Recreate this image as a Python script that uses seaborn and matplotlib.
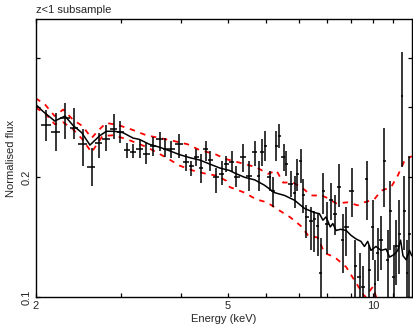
import matplotlib
matplotlib.use("Agg")
import matplotlib.pyplot as plt
import numpy as np
import pandas as pd
import seaborn as sns
from matplotlib.ticker import NullFormatter

# binned spectrum: energy (keV), normalised flux, error bar ends
energy = [2.10, 2.20, 2.30, 2.40, 2.50, 2.61, 2.70, 2.79, 2.91, 2.99,
          3.09, 3.18, 3.28, 3.39, 3.49, 3.61, 3.71, 3.82, 3.96, 4.10,
          4.20, 4.30, 4.39, 4.50, 4.60, 4.72, 4.85, 4.96, 5.10, 5.20,
          5.37, 5.52, 5.68, 5.79, 5.88, 5.97, 6.10, 6.19, 6.30, 6.37,
          6.53, 6.58, 6.76, 6.87, 6.96, 7.07, 7.14, 7.26, 7.44, 7.55,
          7.67, 7.77, 7.86, 8.02, 8.18, 8.34, 8.47, 8.64, 8.78, 9.02,
          9.17, 9.36, 9.51, 9.69, 9.81, 9.97, 10.08, 10.21, 10.37, 10.54,
          10.70, 10.84, 11.01, 11.14, 11.32, 11.44, 11.59, 11.74, 11.87]
flux = [0.271, 0.260, 0.282, 0.266, 0.242, 0.212, 0.244, 0.250, 0.265, 0.260,
        0.234, 0.231, 0.235, 0.229, 0.240, 0.249, 0.236, 0.235, 0.242, 0.219,
        0.213, 0.225, 0.211, 0.235, 0.221, 0.200, 0.204, 0.216, 0.218, 0.200,
        0.225, 0.202, 0.231, 0.202, 0.231, 0.240, 0.200, 0.185, 0.240, 0.254,
        0.225, 0.216, 0.192, 0.183, 0.204, 0.220, 0.180, 0.159, 0.155, 0.157,
        0.151, 0.115, 0.185, 0.153, 0.175, 0.162, 0.189, 0.139, 0.150, 0.185,
        0.120, 0.112, 0.106, 0.198, 0.117, 0.150, 0.108, 0.129, 0.139, 0.220,
        0.124, 0.165, 0.112, 0.134, 0.144, 0.320, 0.165, 0.115, 0.144]
flux_lo = [0.247, 0.233, 0.249, 0.249, 0.214, 0.190, 0.224, 0.233, 0.249, 0.244,
           0.224, 0.223, 0.223, 0.216, 0.226, 0.233, 0.225, 0.223, 0.224, 0.208,
           0.202, 0.214, 0.194, 0.220, 0.208, 0.183, 0.191, 0.206, 0.206, 0.189,
           0.206, 0.185, 0.214, 0.185, 0.214, 0.220, 0.185, 0.168, 0.220, 0.237,
           0.208, 0.202, 0.178, 0.167, 0.185, 0.194, 0.163, 0.141, 0.131, 0.130,
           0.127, 0.098, 0.162, 0.128, 0.156, 0.143, 0.168, 0.115, 0.127, 0.159,
           0.100, 0.098, 0.095, 0.156, 0.097, 0.124, 0.095, 0.110, 0.117, 0.168,
           0.097, 0.131, 0.090, 0.107, 0.114, 0.212, 0.131, 0.090, 0.090]
flux_hi = [0.296, 0.290, 0.307, 0.299, 0.264, 0.237, 0.259, 0.270, 0.288, 0.277,
           0.244, 0.242, 0.248, 0.244, 0.253, 0.260, 0.251, 0.247, 0.257, 0.229,
           0.220, 0.236, 0.229, 0.247, 0.233, 0.211, 0.220, 0.226, 0.233, 0.214,
           0.243, 0.220, 0.247, 0.220, 0.250, 0.262, 0.208, 0.200, 0.262, 0.272,
           0.243, 0.233, 0.208, 0.202, 0.222, 0.236, 0.198, 0.170, 0.168, 0.165,
           0.162, 0.141, 0.205, 0.173, 0.194, 0.180, 0.216, 0.162, 0.168, 0.211,
           0.139, 0.129, 0.120, 0.220, 0.135, 0.175, 0.124, 0.149, 0.160, 0.266,
           0.147, 0.196, 0.135, 0.156, 0.175, 0.414, 0.202, 0.139, 0.226]

# stacked model and its envelope
model_e = [2.00, 2.07, 2.19, 2.30, 2.39, 2.49, 2.59, 2.71, 2.80, 2.91,
           3.03, 3.18, 3.28, 3.44, 3.61, 3.79, 3.97, 4.17, 4.37, 4.58,
           4.81, 5.04, 5.16, 5.41, 5.68, 5.95, 6.24, 6.55, 6.87, 7.20,
           7.55, 7.73, 7.86, 7.98, 8.14, 8.24, 8.37, 8.55, 8.78, 8.98,
           9.20, 9.42, 9.58, 9.73, 9.88, 10.12, 10.37, 10.62, 10.80, 11.05,
           11.23, 11.38, 11.51, 11.69, 11.87, 12.0]
model_f = [0.305, 0.293, 0.277, 0.285, 0.270, 0.259, 0.241, 0.254, 0.261, 0.261,
           0.259, 0.251, 0.249, 0.242, 0.238, 0.233, 0.228, 0.224, 0.221, 0.216,
           0.211, 0.208, 0.205, 0.200, 0.197, 0.191, 0.183, 0.180, 0.175, 0.167,
           0.163, 0.162, 0.156, 0.159, 0.150, 0.153, 0.147, 0.148, 0.147, 0.143,
           0.140, 0.138, 0.134, 0.138, 0.131, 0.134, 0.131, 0.132, 0.126, 0.128,
           0.131, 0.139, 0.127, 0.124, 0.131, 0.127]
upper_e = [2.00, 2.09, 2.19, 2.28, 2.39, 2.50, 2.61, 2.71, 2.80, 2.98,
           3.15, 3.39, 3.61, 3.85, 4.13, 4.37, 4.69, 4.96, 5.04, 5.41,
           5.72, 6.05, 6.30, 6.50, 6.81, 7.09, 7.44, 7.61, 7.73, 7.98,
           8.37, 8.85, 9.28, 9.58, 10.04, 10.37, 10.88, 11.23, 11.59, 12.0]
upper_f = [0.316, 0.305, 0.285, 0.296, 0.279, 0.269, 0.251, 0.264, 0.274, 0.270,
           0.264, 0.255, 0.251, 0.247, 0.242, 0.234, 0.229, 0.222, 0.221, 0.216,
           0.212, 0.204, 0.208, 0.194, 0.194, 0.189, 0.180, 0.180, 0.181, 0.178,
           0.172, 0.173, 0.170, 0.173, 0.176, 0.185, 0.189, 0.202, 0.220, 0.226]
lower_e = [2.00, 2.09, 2.19, 2.28, 2.39, 2.50, 2.61, 2.75, 2.89, 3.03,
           3.15, 3.40, 3.73, 3.97, 4.23, 4.51, 4.73, 4.96, 5.04, 5.41,
           5.72, 6.02, 6.39, 6.71, 7.07, 7.32, 7.67, 7.92, 8.31, 8.78,
           9.14, 9.60, 9.97, 10.3, 12.0]
lower_f = [0.299, 0.290, 0.272, 0.275, 0.264, 0.249, 0.231, 0.254, 0.255, 0.251,
           0.247, 0.238, 0.224, 0.214, 0.208, 0.204, 0.202, 0.196, 0.189, 0.183,
           0.176, 0.173, 0.165, 0.159, 0.151, 0.143, 0.141, 0.129, 0.126, 0.119,
           0.110, 0.100, 0.106, 0.094, 0.080]

sns.set_theme(style="ticks")
plt.rcParams["font.family"] = ["Liberation Sans", "DejaVu Sans"]
plt.rcParams["font.size"] = 8

fig = plt.figure(figsize=(4.13, 3.27), dpi=100)
ax = fig.add_axes([0.0864, 0.0917, 0.9105, 0.8502])

df = pd.DataFrame({"E": energy, "F": flux, "lo": flux_lo, "hi": flux_hi})
e = df["E"].to_numpy()
half = np.diff(e) / 2
xerr = [np.r_[half[0], half], np.r_[half, half[-1]]]
yerr = [df["F"] - df["lo"], df["hi"] - df["F"]]
ax.errorbar(df["E"], df["F"], xerr=xerr, yerr=yerr, fmt="none",
            ecolor="black", elinewidth=1.1, capsize=0, zorder=3)

sns.lineplot(x=model_e, y=model_f, ax=ax, color="black", lw=1.1, zorder=4)
dash = (0, (3.0, 3.2))
sns.lineplot(x=upper_e, y=upper_f, ax=ax, color="red", lw=1.3, linestyle=dash, zorder=2)
sns.lineplot(x=lower_e, y=lower_f, ax=ax, color="red", lw=1.3, linestyle=dash, zorder=2)

ax.set_xscale("log")
ax.set_yscale("log")
ax.set_xlim(2, 12)
ax.set_ylim(0.1, 0.5)

ax.set_xticks([2, 5, 10])
ax.set_xticklabels(["2", "5", "10"])
ax.set_xticks([3, 4, 6, 7, 8, 9, 11], minor=True)
ax.xaxis.set_minor_formatter(NullFormatter())
ax.set_yticks([0.1, 0.2])
ax.set_yticklabels(["0.1", "0.2"], rotation=90, va="center")
ax.set_yticks([0.3, 0.4], minor=True)
ax.yaxis.set_minor_formatter(NullFormatter())

ax.tick_params(which="both", direction="in", top=True, right=True,
               length=3, width=0.9, color="black", labelsize=8, pad=3)
for s in ax.spines.values():
    s.set_color("black")
    s.set_linewidth(1.0)

ax.set_xlabel("Energy (keV)", fontsize=8, labelpad=2)
ax.set_ylabel("Normalised flux", fontsize=8, labelpad=4)
ax.set_title("z<1 subsample", loc="left", fontsize=8, pad=4)

fig.savefig("out.png", dpi=100)
